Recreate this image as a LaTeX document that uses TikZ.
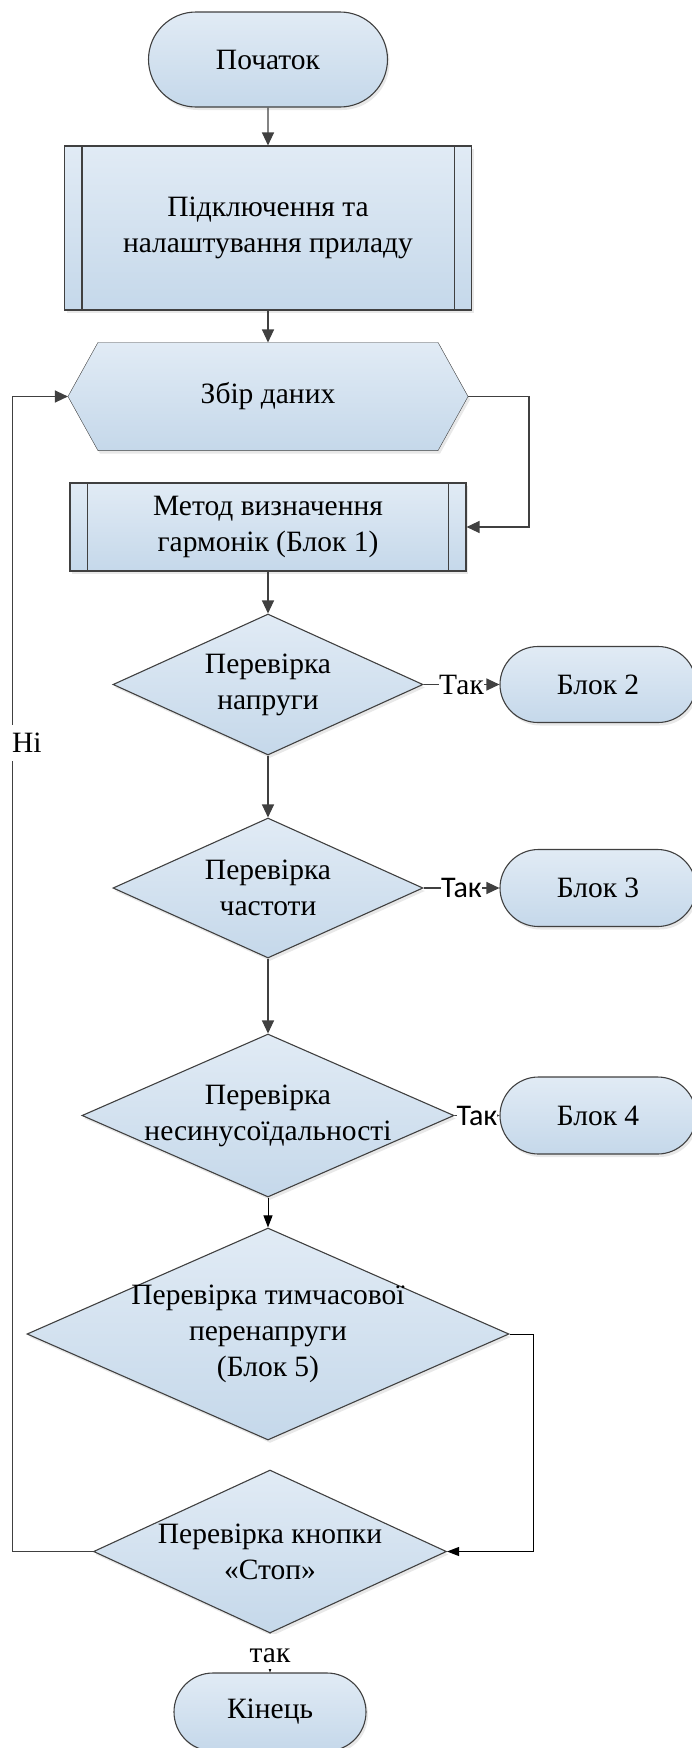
\documentclass[tikz,border=0pt]{standalone}
\usepackage{fontspec}
\setmainfont{Liberation Serif}
\newfontfamily\calibri{Carlito}
\usetikzlibrary{arrows.meta, positioning, shapes.geometric, shapes.misc, shadows, backgrounds}
\definecolor{cline}{HTML}{404040}
\definecolor{ctop}{HTML}{E1EBF5}
\definecolor{cbot}{HTML}{C5D8EA}
\tikzset{
  every picture/.style={line width=1.1pt},
  every node/.style={font=\fontsize{29.5}{36}\selectfont},
  blockfill/.style={draw=cline, top color=ctop, bottom color=cbot, drop shadow={opacity=0.18, shadow xshift=2pt, shadow yshift=-3pt}},
  term/.style={blockfill, rounded rectangle, inner sep=0pt},
  proc/.style={blockfill, rectangle, align=center, inner sep=0pt},
  prep/.style={rectangle, align=center, inner sep=0pt},
  decide/.style={blockfill, diamond, align=center, inner sep=-6pt},
  arrow/.style={-{Triangle[length=13pt, width=12pt]}, draw=cline, line width=1.2pt},
  arrowk/.style={-{Triangle[length=12pt, width=9pt]}, draw=black, line width=1pt},
  yes/.style={fill=white, inner sep=0pt},
  yessans/.style={yes, font=\calibri\fontsize{30}{36}\selectfont},
  nobox/.style={fill=white, anchor=west, inner xsep=1pt, inner ysep=8pt, xshift=-2pt},
}

\begin{document}
\begin{tikzpicture}[x=1pt, y=-1pt]
  \useasboundingbox (0,0) rectangle (691,1748);
  % main column
  \node[term, minimum width=239pt, minimum height=95pt] (start) at (268, 59.5) {Початок};
  \node[proc, minimum width=407pt, minimum height=164pt] (setup) at (268, 228) {Підключення та\\налаштування приладу};
  \node[prep, minimum width=399pt, minimum height=107pt] (collect) at (268, 396.5) {Збір даних};
  \node[proc, minimum width=396pt, minimum height=88pt] (method) at (268, 527) {Метод визначення\\гармонік (Блок 1)};
  \node[decide, aspect=2.2, minimum width=310pt, minimum height=141pt] (volt) at (268, 684.5) {Перевірка\\напруги};
  \node[decide, aspect=2.21, minimum width=310pt, minimum height=140pt] (freq) at (268, 888) {Перевірка\\частоти};
  \node[decide, aspect=2.28, minimum width=372pt, minimum height=163pt] (sinus) at (268, 1115.5) {Перевірка\\несинусоїдальності};
  \node[decide, aspect=2.27, minimum width=482pt, minimum height=212pt] (surge) at (268, 1334) {Перевірка тимчасової\\перенапруги\\(Блок 5)};
  \node[decide, aspect=2.17, minimum width=353pt, minimum height=163pt] (stop) at (270, 1551.5) {Перевірка кнопки\\«Стоп»};
  \node[term, minimum width=192pt, minimum height=78pt] (finish) at (270, 1712) {Кінець};
  % side blocks
  \node[term, minimum width=196pt, minimum height=76pt] (blk2) at (598, 684.5) {Блок 2};
  \node[term, minimum width=196pt, minimum height=77pt] (blk3) at (598, 888) {Блок 3};
  \node[term, minimum width=196pt, minimum height=77pt] (blk4) at (598, 1115.5) {Блок 4};
  % hexagon and subprocess bars
  \begin{scope}[on background layer]
    \path[blockfill] (collect.west) -- ([xshift=30pt]collect.north west) -- ([xshift=-30pt]collect.north east)
      -- (collect.east) -- ([xshift=-30pt]collect.south east) -- ([xshift=30pt]collect.south west) -- cycle;
  \end{scope}
  \foreach \n in {setup, method} {
    \draw[cline] ([xshift=18pt]\n.north west) -- ([xshift=18pt]\n.south west);
    \draw[cline] ([xshift=-18pt]\n.north east) -- ([xshift=-18pt]\n.south east);
  }
  % connectors
  \coordinate (lloop) at (12.5, 0);
  \coordinate (rloop) at (529, 0);
  \coordinate (rloop2) at (533, 0);
  \draw[arrow] (start) -- (setup);
  \draw[arrow] (setup) -- (collect);
  \draw[arrow] (collect.east) -- (collect.east -| rloop) |- (method.east);
  \draw[arrow] (method) -- (volt);
  \draw[arrow] (volt) -- (freq);
  \draw[arrow] (freq) -- (sinus);
  \draw[arrowk] (sinus) -- (surge);
  \draw[arrow] (volt) -- node[yes] {Так} (blk2);
  \draw[arrow] (freq) -- node[yessans] {Так} (blk3);
  \draw[arrow] (sinus) -- node[yessans] {Так} (blk4);
  \draw[arrowk] (surge.east) -- (surge.east -| rloop2) |- (stop.east);
  \draw[arrow] (stop.west) -- (stop.west -| lloop) -- node[nobox, pos=0.7] {Ні} (collect.west -| lloop) -- (collect.west);
  \draw[arrowk] (stop) -- node[yes, pos=0.46, text height=23pt, inner ysep=6pt] {так} (finish);
\end{tikzpicture}
\end{document}
